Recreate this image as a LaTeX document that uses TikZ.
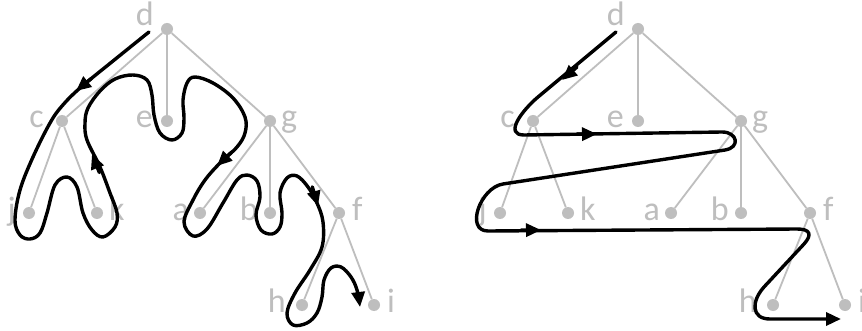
\documentclass[tikz,border=0pt]{standalone}
\usepackage{fontspec}
\setmainfont{Carlito}
\usetikzlibrary{arrows.meta}
\definecolor{treegray}{RGB}{190,190,190}
\tikzset{
  dotnode/.style={circle, fill=treegray, inner sep=0pt, minimum size=12pt},
  edgeline/.style={draw=treegray, line width=1.8pt},
  lbl/.style={text=treegray, font=\fontsize{34}{40}\selectfont, inner sep=0pt},
  lbll/.style={lbl, anchor=base east},
  lblr/.style={lbl, anchor=base west},
  tour/.style={draw=black, line width=3.4pt, line cap=round, line join=round},
  tiparrow/.style={-{Triangle[length=15pt,width=13pt]}},
}
\newcommand\mytree[1]{%
  \node[dotnode] (#1d) at (167,29) {};
  \node[dotnode] (#1c) at (62,121) {};
  \node[dotnode] (#1e) at (167,121) {};
  \node[dotnode] (#1g) at (270,121) {};
  \node[dotnode] (#1j) at (29,213) {};
  \node[dotnode] (#1k) at (97,213) {};
  \node[dotnode] (#1a) at (200,213) {};
  \node[dotnode] (#1b) at (270,213) {};
  \node[dotnode] (#1f) at (339,213) {};
  \node[dotnode] (#1h) at (302,305) {};
  \node[dotnode] (#1i) at (374,305) {};
  \draw[edgeline] (#1d) -- (#1c);
  \draw[edgeline] (#1d) -- (#1e);
  \draw[edgeline] (#1d) -- (#1g);
  \draw[edgeline] (#1c) -- (#1j);
  \draw[edgeline] (#1c) -- (#1k);
  \draw[edgeline] (#1g) -- (#1a);
  \draw[edgeline] (#1g) -- (#1b);
  \draw[edgeline] (#1g) -- (#1f);
  \draw[edgeline] (#1f) -- (#1h);
  \draw[edgeline] (#1f) -- (#1i);
  \node[lbll] (#1dl) at (154,26) {d};
  \node[lbll] (#1cl) at (44,128) {c};
  \node[lbll] (#1el) at (153,128) {e};
  \node[lblr] (#1gl) at (281,128) {g};
  \node[lbll] (#1jl) at (16,221) {j};
  \node[lblr] (#1kl) at (109,221) {k};
  \node[lbll] (#1al) at (189,221) {a};
  \node[lbll] (#1bl) at (258,221) {b};
  \node[lblr] (#1fl) at (352,221) {f};
  \node[lbll] (#1hl) at (286,312) {h};
  \node[lblr] (#1il) at (387,312) {i};
}
\begin{document}
\begin{tikzpicture}[x=1pt, y=-1pt]
\useasboundingbox (0,0) rectangle (862,331);
\fill[white] (0,0) rectangle (862,331);
% left tree
\mytree{L}
% right tree
\begin{scope}[xshift=471pt]
\mytree{R}
\end{scope}
% left tour (Euler tour)
\draw[tour, tiparrow] plot[smooth, tension=0.6] coordinates {
 (149,32) (113,61) (80,88) (62,106) (50,123) (33,157) (20,190) (15,220) (20,235)
 (30,239) (40,233) (47,213) (55,185) (67,177) (77,187) (83,213) (92,230)
 (103,237) (115,227) (117,213) (110,193) (100,167) (87,140) (85,123) (88,108)
 (100,91) (115,79) (133,75) (147,80) (152,95) (154,115) (160,133) (172,140)
 (182,133) (184,118) (183,100) (187,83) (195,77) (213,83) (233,98) (245,117)
 (245,133) (237,147) (220,163) (205,180) (193,200) (184,222) (193,236)
 (207,229) (223,203) (237,180) (247,175) (257,181) (260,197) (256,215)
 (261,230) (272,234) (280,227) (282,213) (280,193) (287,178) (297,176)
 (308,187) (317,203) (323,222) (322,247) (310,270) (295,293) (287,313)
 (293,325) (307,323) (317,313) (322,297) (324,280) (331,268) (341,267)
 (351,277) (357,290) (360,307)};
\coordinate (la1s) at (91.5,78.4);  \coordinate (la1) at (76,91);
\coordinate (la2s) at (99.4,172.6); \coordinate (la2) at (92,154);
\coordinate (la3s) at (231.5,152.2);\coordinate (la3) at (217,166);
\coordinate (la4s) at (312.3,186.8);\coordinate (la4) at (318,206);
\draw[tour, tiparrow] (la1s) -- (la1);
\draw[tour, tiparrow] (la2s) -- (la2);
\draw[tour, tiparrow] (la3s) -- (la3);
\draw[tour, tiparrow] (la4s) -- (la4);
% right tour (level order)
\draw[tour, tiparrow] (616,32) -- (538,97)
  to[out=220, in=180, looseness=1.3] (524,135) -- (722,132)
  to[out=0, in=9, looseness=2.2] (725,150) -- (503,184)
  to[out=189, in=180, looseness=1.2] (488,231) -- (797,229)
  to[out=0, in=48, looseness=2] (804,244) -- (764,287)
  to[out=228, in=180, looseness=1.5] (770,319) -- (841,319);
\coordinate (ra1s) at (577,67); \coordinate (ra1) at (562,80);
\coordinate (ra2s) at (577,134.2); \coordinate (ra2) at (597,134);
\coordinate (ra3s) at (521,230.2); \coordinate (ra3) at (541,230);
\draw[tour, tiparrow] (ra1s) -- (ra1);
\draw[tour, tiparrow] (ra2s) -- (ra2);
\draw[tour, tiparrow] (ra3s) -- (ra3);
\end{tikzpicture}
\end{document}
